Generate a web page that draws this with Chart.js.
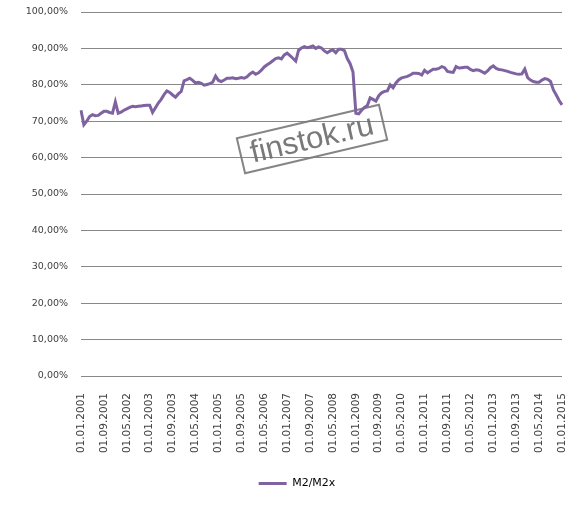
<!DOCTYPE html>
<html>
<head>
<meta charset="utf-8">
<script src="https://cdn.jsdelivr.net/npm/chart.js@4"></script>
<style>
  html, body { margin: 0; padding: 0; background: #fff; }
  #wrap { width: 585px; height: 516px; }
</style>
</head>
<body>
<div id="wrap"><canvas id="chart" width="585" height="516"></canvas></div>
<script>
// monthly dates 01.01.2001 .. 01.01.2015
const startYear = 2001
const monthCount = 169
const seriesName = 'M2/M2x'

// M2/M2x, %
const ratio2001 = [73.0, 69.0, 70.0, 71.3, 71.8, 71.5, 71.6, 72.2, 72.7, 72.7, 72.4, 72.2]
const ratio2002 = [75.3, 72.2, 72.5, 73.0, 73.4, 73.8, 74.1, 74.0, 74.1, 74.2, 74.3, 74.4]
const ratio2003 = [74.4, 72.4, 73.7, 75.0, 76.0, 77.3, 78.3, 77.9, 77.2, 76.6, 77.5, 78.2]
const ratio2004 = [81.1, 81.4, 81.8, 81.2, 80.5, 80.7, 80.4, 79.9, 80.1, 80.3, 80.7, 82.4]
const ratio2005 = [81.2, 80.9, 81.3, 81.8, 81.8, 81.9, 81.7, 81.8, 82.0, 81.8, 82.2, 83.0]
const ratio2006 = [83.5, 82.9, 83.3, 84.0, 84.9, 85.5, 86.0, 86.6, 87.2, 87.4, 87.1, 88.2]
const ratio2007 = [88.7, 88.0, 87.3, 86.5, 89.5, 90.1, 90.5, 90.2, 90.4, 90.7, 90.0, 90.4]
const ratio2008 = [90.1, 89.3, 88.8, 89.3, 89.6, 88.8, 89.8, 89.8, 89.4, 87.2, 85.8, 83.5]
const ratio2009 = [72.2, 72.0, 73.0, 73.8, 74.3, 76.4, 76.0, 75.5, 77.0, 77.8, 78.2, 78.3]
const ratio2010 = [80.0, 79.2, 80.5, 81.4, 81.9, 82.1, 82.3, 82.7, 83.2, 83.2, 83.1, 82.7]
const ratio2011 = [84.0, 83.3, 83.8, 84.3, 84.3, 84.5, 85.0, 84.7, 83.7, 83.5, 83.4, 85.0]
const ratio2012 = [84.6, 84.7, 84.8, 84.8, 84.2, 83.9, 84.1, 84.0, 83.6, 83.2, 83.8, 84.7]
const ratio2013 = [85.2, 84.5, 84.2, 84.1, 83.9, 83.7, 83.4, 83.2, 83.0, 82.9, 83.0, 84.3]
const ratio2014 = [82.0, 81.3, 80.9, 80.7, 80.7, 81.3, 81.7, 81.5, 80.9, 78.6, 77.2, 75.7]
const ratio2015 = [74.5]

const values = [].concat(ratio2001, ratio2002, ratio2003, ratio2004, ratio2005,
  ratio2006, ratio2007, ratio2008, ratio2009, ratio2010, ratio2011, ratio2012,
  ratio2013, ratio2014, ratio2015)

const labels = []
for (let i = 0; i < monthCount; i++) {
  const m = i % 12 + 1
  const y = startYear + Math.floor(i / 12)
  labels.push('01.' + String(m).padStart(2, '0') + '.' + y)
}

const lineColor = '#7F63A1'
const textColor = '#404040'

// watermark box drawn under the line
const watermark = {
  id: 'watermark',
  beforeDatasetsDraw (chart) {
    const ctx = chart.ctx
    ctx.save()
    ctx.translate(312, 139)
    ctx.rotate(-13.3 * Math.PI / 180)
    ctx.strokeStyle = 'rgba(120,120,120,0.9)'
    ctx.lineWidth = 2
    ctx.strokeRect(-73, -18, 146, 36)
    ctx.fillStyle = 'rgba(110,110,110,0.92)'
    ctx.font = '31px "Liberation Sans", Arial, sans-serif'
    ctx.textAlign = 'center'
    ctx.textBaseline = 'middle'
    ctx.fillText('finstok.ru', 0, 1)
    ctx.restore()
  }
}

// legend sits a bit right of canvas centre in the original
const legendShift = {
  id: 'legendShift',
  afterLayout (chart) {
    if (chart.legend) chart.legend.left += 32
  }
}

new Chart(document.getElementById('chart'), {
  type: 'line',
  data: {
    labels: labels,
    datasets: [{
      label: seriesName,
      data: values,
      borderColor: lineColor,
      backgroundColor: lineColor,
      borderWidth: 3,
      pointRadius: 0,
      tension: 0
    }]
  },
  options: {
    responsive: false,
    animation: false,
    layout: { padding: { left: 0, right: 23, top: 12, bottom: 17 } },
    plugins: {
      tooltip: { enabled: false },
      legend: {
        position: 'bottom',
        labels: {
          color: textColor,
          font: { family: '"DejaVu Sans", Verdana, sans-serif', size: 11 },
          boxWidth: 28,
          boxHeight: 3,
          padding: 10,
          generateLabels () {
            return [{ text: seriesName, fillStyle: lineColor, strokeStyle: lineColor, lineWidth: 0, hidden: false, datasetIndex: 0 }]
          }
        }
      }
    },
    scales: {
      x: {
        grid: { display: false },
        border: { display: false },
        ticks: {
          autoSkip: false,
          minRotation: 90,
          maxRotation: 90,
          padding: 9,
          color: textColor,
          font: { family: '"DejaVu Sans", Verdana, sans-serif', size: 10.5 },
          callback (v, i) { return i % 8 === 0 ? labels[i] : null }
        },
        afterFit (s) { s.height = 92 }
      },
      y: {
        min: 0,
        max: 100,
        grid: { color: '#888888', lineWidth: 1, drawTicks: false },
        border: { display: false },
        ticks: {
          stepSize: 10,
          padding: 13,
          color: textColor,
          font: { family: '"DejaVu Sans", Verdana, sans-serif', size: 9.5 },
          callback (v) { return v.toFixed(2).replace('.', ',') + '%' }
        },
        afterFit (s) {
          s.width = 81
          s.paddingTop = 6
          s.paddingBottom = 6
        }
      }
    }
  },
  plugins: [watermark, legendShift]
})
</script>
</body>
</html>
